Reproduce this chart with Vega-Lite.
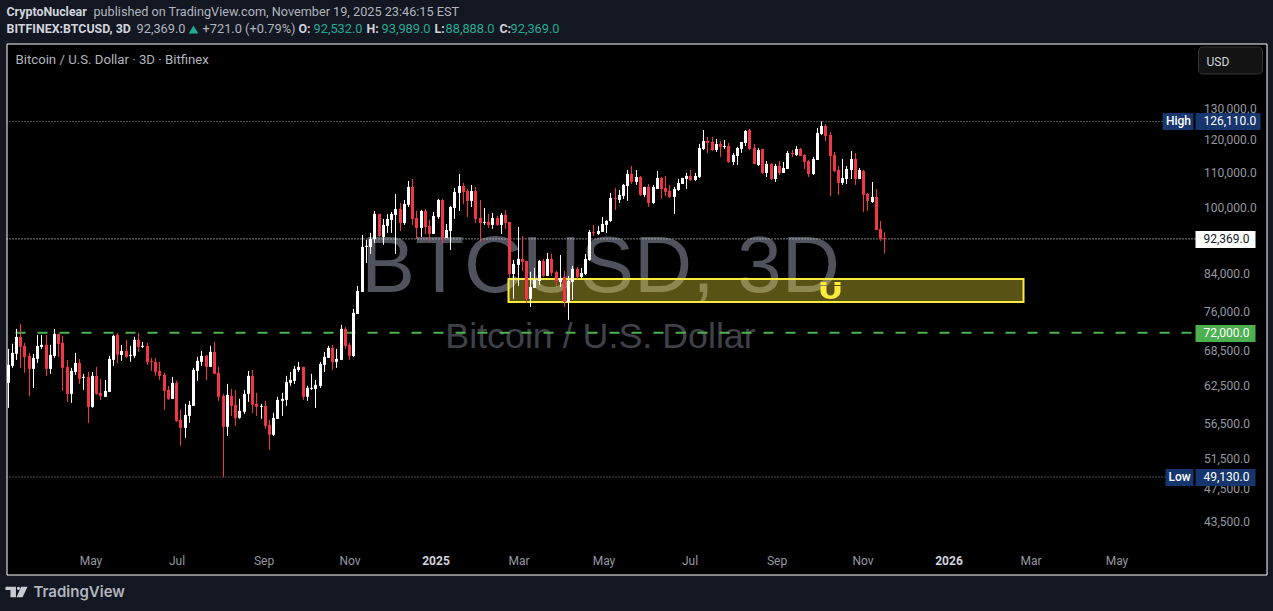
{
  "$schema": "https://vega.github.io/schema/vega-lite/v6.json",
  "description": "BTCUSD 3D candles, TradingView snapshot",
  "width": 1260,
  "height": 531,
  "autosize": "none",
  "padding": {"left": 6.5, "top": 43.5, "right": 6.5, "bottom": 36.5},
  "background": "#131722",
  "config": {
    "view": {"fill": "#000000", "stroke": "#ffffff", "strokeWidth": 1},
    "text": {"font": "Roboto", "align": "left", "baseline": "middle", "fontSize": 12.8},
    "axisY": {
      "orient": "right",
      "grid": false,
      "ticks": false,
      "domain": false,
      "format": ",.1f",
      "labelFont": "Roboto",
      "labelFontSize": 12,
      "labelColor": "#9598a1",
      "labelAlign": "left",
      "labelPadding": -63,
      "labelOffset": -1,
      "labelOverlap": false,
      "labelFlush": false,
      "labelBound": false,
      "title": null
    }
  },
  "resolve": {"axis": {"y": "shared"}},
  "datasets": {
    "candles": [
      {"d":"2024-03-03","o":63062,"h":69003,"l":59015,"c":66145},
      {"d":"2024-03-06","o":65970,"h":69928,"l":65620,"c":68280},
      {"d":"2024-03-09","o":68100,"h":72760,"l":67020,"c":71236},
      {"d":"2024-03-12","o":71236,"h":73735,"l":65620,"c":69373},
      {"d":"2024-03-15","o":69558,"h":70113,"l":64754,"c":67560},
      {"d":"2024-03-18","o":67740,"h":68280,"l":60926,"c":65445},
      {"d":"2024-03-21","o":65445,"h":68100,"l":62232,"c":67380},
      {"d":"2024-03-24","o":67200,"h":71616,"l":66495,"c":69558},
      {"d":"2024-03-27","o":69373,"h":71616,"l":69003,"c":69743},
      {"d":"2024-03-30","o":69743,"h":71616,"l":64241,"c":65445},
      {"d":"2024-04-02","o":65445,"h":69743,"l":64583,"c":67920},
      {"d":"2024-04-05","o":67740,"h":72760,"l":67380,"c":71806},
      {"d":"2024-04-08","o":71806,"h":71806,"l":67560,"c":69928},
      {"d":"2024-04-11","o":70113,"h":71426,"l":61736,"c":65620},
      {"d":"2024-04-14","o":65795,"h":67020,"l":59963,"c":61250},
      {"d":"2024-04-17","o":61250,"h":65620,"l":59805,"c":65096},
      {"d":"2024-04-20","o":64925,"h":68280,"l":64412,"c":66495},
      {"d":"2024-04-23","o":66495,"h":67200,"l":62896,"c":63731},
      {"d":"2024-04-26","o":63899,"h":64583,"l":61898,"c":64070},
      {"d":"2024-04-29","o":64070,"h":64925,"l":56717,"c":59173},
      {"d":"2024-05-02","o":59173,"h":64925,"l":59015,"c":64241},
      {"d":"2024-05-05","o":64241,"h":65795,"l":61088,"c":61250},
      {"d":"2024-05-08","o":61412,"h":63731,"l":60279,"c":60926},
      {"d":"2024-05-11","o":60764,"h":63560,"l":60764,"c":61736},
      {"d":"2024-05-14","o":61574,"h":67740,"l":61574,"c":67200},
      {"d":"2024-05-17","o":67020,"h":71616,"l":65970,"c":71426},
      {"d":"2024-05-20","o":71616,"h":71996,"l":66495,"c":67920},
      {"d":"2024-05-23","o":67920,"h":69743,"l":66845,"c":68640},
      {"d":"2024-05-26","o":68640,"h":70668,"l":67380,"c":67560},
      {"d":"2024-05-29","o":67740,"h":69558,"l":66670,"c":67920},
      {"d":"2024-06-01","o":67740,"h":71236,"l":67380,"c":70668},
      {"d":"2024-06-04","o":70668,"h":71996,"l":68460,"c":69373},
      {"d":"2024-06-07","o":69373,"h":70298,"l":69188,"c":69558},
      {"d":"2024-06-10","o":69558,"h":70113,"l":66145,"c":66670},
      {"d":"2024-06-13","o":66845,"h":67380,"l":65096,"c":66670},
      {"d":"2024-06-16","o":66670,"h":67380,"l":64241,"c":64925},
      {"d":"2024-06-19","o":65096,"h":66670,"l":63560,"c":64241},
      {"d":"2024-06-22","o":64412,"h":64754,"l":58702,"c":61736},
      {"d":"2024-06-25","o":61898,"h":62564,"l":60279,"c":60441},
      {"d":"2024-06-28","o":60441,"h":64070,"l":60441,"c":63062},
      {"d":"2024-07-01","o":63062,"h":63394,"l":56867,"c":57017},
      {"d":"2024-07-04","o":57167,"h":58702,"l":53366,"c":55972},
      {"d":"2024-07-07","o":55972,"h":59647,"l":54508,"c":57932},
      {"d":"2024-07-10","o":57778,"h":60117,"l":56717,"c":59489},
      {"d":"2024-07-13","o":59331,"h":65620,"l":59331,"c":65267},
      {"d":"2024-07-16","o":65096,"h":67560,"l":63394,"c":66845},
      {"d":"2024-07-19","o":66670,"h":68640,"l":65970,"c":67740},
      {"d":"2024-07-22","o":67740,"h":67920,"l":63560,"c":65795},
      {"d":"2024-07-25","o":65795,"h":69558,"l":65795,"c":68460},
      {"d":"2024-07-28","o":68460,"h":70298,"l":64583,"c":64583},
      {"d":"2024-07-31","o":64754,"h":65795,"l":60117,"c":60764},
      {"d":"2024-08-03","o":60926,"h":61250,"l":49130,"c":56117},
      {"d":"2024-08-06","o":56117,"h":62896,"l":54796,"c":61088},
      {"d":"2024-08-09","o":60926,"h":62064,"l":57778,"c":59331},
      {"d":"2024-08-12","o":59489,"h":61898,"l":56267,"c":57475},
      {"d":"2024-08-15","o":57475,"h":60441,"l":57321,"c":58548},
      {"d":"2024-08-18","o":58394,"h":61898,"l":58086,"c":61250},
      {"d":"2024-08-21","o":61250,"h":65096,"l":59963,"c":64241},
      {"d":"2024-08-24","o":64241,"h":65267,"l":58240,"c":59489},
      {"d":"2024-08-27","o":59647,"h":61412,"l":57778,"c":59173},
      {"d":"2024-08-30","o":59173,"h":59647,"l":57321,"c":59331},
      {"d":"2024-09-02","o":59331,"h":60117,"l":55822,"c":56267},
      {"d":"2024-09-05","o":56417,"h":57167,"l":52798,"c":54946},
      {"d":"2024-09-08","o":54946,"h":58240,"l":54796,"c":57475},
      {"d":"2024-09-11","o":57321,"h":60764,"l":57321,"c":60279},
      {"d":"2024-09-14","o":60117,"h":61412,"l":57778,"c":60441},
      {"d":"2024-09-17","o":60279,"h":64241,"l":59331,"c":63228},
      {"d":"2024-09-20","o":63062,"h":64925,"l":62564,"c":63560},
      {"d":"2024-09-23","o":63394,"h":65970,"l":62896,"c":65445},
      {"d":"2024-09-26","o":65267,"h":66670,"l":64925,"c":65795},
      {"d":"2024-09-29","o":65795,"h":65795,"l":60279,"c":60764},
      {"d":"2024-10-02","o":60764,"h":62564,"l":60117,"c":62232},
      {"d":"2024-10-05","o":62064,"h":64583,"l":61898,"c":62232},
      {"d":"2024-10-08","o":62064,"h":63560,"l":59015,"c":62730},
      {"d":"2024-10-11","o":62564,"h":66670,"l":62232,"c":66320},
      {"d":"2024-10-14","o":66145,"h":68460,"l":64925,"c":67560},
      {"d":"2024-10-17","o":67380,"h":69558,"l":67380,"c":69188},
      {"d":"2024-10-20","o":69188,"h":69743,"l":65267,"c":66670},
      {"d":"2024-10-23","o":66670,"h":69003,"l":65620,"c":67200},
      {"d":"2024-10-26","o":67020,"h":73540,"l":67020,"c":72760},
      {"d":"2024-10-29","o":72760,"h":73150,"l":69003,"c":69558},
      {"d":"2024-11-01","o":69743,"h":70113,"l":67020,"c":67740},
      {"d":"2024-11-04","o":67740,"h":76722,"l":67560,"c":75916},
      {"d":"2024-11-07","o":75716,"h":81546,"l":75716,"c":80470},
      {"d":"2024-11-10","o":80259,"h":93352,"l":80259,"c":90427},
      {"d":"2024-11-13","o":90427,"h":92113,"l":86671,"c":90668},
      {"d":"2024-11-16","o":90427,"h":93846,"l":88764,"c":92360},
      {"d":"2024-11-19","o":92360,"h":99474,"l":91390,"c":98691},
      {"d":"2024-11-22","o":98691,"h":98691,"l":92854,"c":93101},
      {"d":"2024-11-25","o":92854,"h":97388,"l":90909,"c":95857},
      {"d":"2024-11-28","o":95603,"h":98691,"l":93846,"c":97388},
      {"d":"2024-12-01","o":97127,"h":99213,"l":93846,"c":98691},
      {"d":"2024-12-04","o":98430,"h":104064,"l":88764,"c":100001},
      {"d":"2024-12-07","o":100001,"h":101609,"l":94340,"c":96365},
      {"d":"2024-12-10","o":96365,"h":102413,"l":95857,"c":101341},
      {"d":"2024-12-13","o":101073,"h":107706,"l":100537,"c":106014},
      {"d":"2024-12-16","o":106014,"h":108278,"l":95857,"c":97388},
      {"d":"2024-12-19","o":97647,"h":99474,"l":92360,"c":95095},
      {"d":"2024-12-22","o":95095,"h":99735,"l":92854,"c":99474},
      {"d":"2024-12-25","o":99474,"h":100001,"l":93599,"c":95349},
      {"d":"2024-12-28","o":95603,"h":97127,"l":91872,"c":93599},
      {"d":"2024-12-31","o":93599,"h":99213,"l":93599,"c":98169},
      {"d":"2025-01-03","o":97908,"h":102689,"l":97388,"c":102413},
      {"d":"2025-01-06","o":102413,"h":102689,"l":91390,"c":92607},
      {"d":"2025-01-09","o":92607,"h":96111,"l":92607,"c":94587},
      {"d":"2025-01-12","o":94340,"h":100805,"l":89704,"c":100537},
      {"d":"2025-01-15","o":100269,"h":105728,"l":97388,"c":104614},
      {"d":"2025-01-18","o":104339,"h":109728,"l":99474,"c":106296},
      {"d":"2025-01-21","o":106296,"h":107142,"l":101341,"c":104614},
      {"d":"2025-01-24","o":104889,"h":105446,"l":97908,"c":102145},
      {"d":"2025-01-27","o":102145,"h":106578,"l":100537,"c":104889},
      {"d":"2025-01-30","o":104889,"h":106014,"l":96365,"c":97388},
      {"d":"2025-02-02","o":97647,"h":102413,"l":91631,"c":96365},
      {"d":"2025-02-05","o":96365,"h":100269,"l":95857,"c":96619},
      {"d":"2025-02-08","o":96619,"h":98691,"l":95095,"c":95857},
      {"d":"2025-02-11","o":95857,"h":98952,"l":94841,"c":97647},
      {"d":"2025-02-14","o":97647,"h":98169,"l":95603,"c":95857},
      {"d":"2025-02-17","o":95857,"h":98952,"l":93599,"c":98430},
      {"d":"2025-02-20","o":98430,"h":99735,"l":94841,"c":96365},
      {"d":"2025-02-23","o":96619,"h":96619,"l":83292,"c":84185},
      {"d":"2025-02-26","o":84185,"h":87358,"l":78782,"c":86442},
      {"d":"2025-03-01","o":86213,"h":95349,"l":81546,"c":87593},
      {"d":"2025-03-04","o":87593,"h":93101,"l":84851,"c":86900},
      {"d":"2025-03-07","o":87129,"h":87129,"l":77953,"c":78782},
      {"d":"2025-03-10","o":78782,"h":84629,"l":77129,"c":81329},
      {"d":"2025-03-13","o":81115,"h":85531,"l":81115,"c":82848},
      {"d":"2025-03-16","o":82631,"h":87358,"l":81763,"c":87129},
      {"d":"2025-03-19","o":87129,"h":87593,"l":83514,"c":83736},
      {"d":"2025-03-22","o":83736,"h":88999,"l":83736,"c":87593},
      {"d":"2025-03-25","o":87593,"h":88764,"l":83736,"c":84407},
      {"d":"2025-03-28","o":84629,"h":84851,"l":81546,"c":82631},
      {"d":"2025-03-31","o":82414,"h":88529,"l":81329,"c":83292},
      {"d":"2025-04-03","o":83514,"h":84851,"l":77129,"c":78159},
      {"d":"2025-04-06","o":78159,"h":83736,"l":74515,"c":82631},
      {"d":"2025-04-09","o":82414,"h":85984,"l":78571,"c":85302},
      {"d":"2025-04-12","o":85302,"h":85755,"l":83070,"c":83514},
      {"d":"2025-04-15","o":83514,"h":85531,"l":83292,"c":84407},
      {"d":"2025-04-18","o":84185,"h":88764,"l":83963,"c":87593},
      {"d":"2025-04-21","o":87358,"h":94587,"l":87129,"c":94093},
      {"d":"2025-04-24","o":94093,"h":95857,"l":93101,"c":93846},
      {"d":"2025-04-27","o":93599,"h":95603,"l":93352,"c":94340},
      {"d":"2025-04-30","o":94093,"h":97908,"l":94093,"c":96111},
      {"d":"2025-05-03","o":95857,"h":97127,"l":93846,"c":96873},
      {"d":"2025-05-06","o":96873,"h":104339,"l":96619,"c":102963},
      {"d":"2025-05-09","o":102963,"h":105728,"l":99735,"c":102689},
      {"d":"2025-05-12","o":102413,"h":105164,"l":101609,"c":103789},
      {"d":"2025-05-15","o":103514,"h":106860,"l":102689,"c":106578},
      {"d":"2025-05-18","o":106296,"h":110888,"l":102145,"c":109728},
      {"d":"2025-05-21","o":109728,"h":112078,"l":106860,"c":107424},
      {"d":"2025-05-24","o":107424,"h":110888,"l":106578,"c":108858},
      {"d":"2025-05-27","o":108858,"h":109148,"l":103514,"c":103789},
      {"d":"2025-05-30","o":103789,"h":106014,"l":103239,"c":106014},
      {"d":"2025-06-02","o":106014,"h":106860,"l":100537,"c":101609},
      {"d":"2025-06-05","o":101609,"h":106578,"l":101341,"c":106014},
      {"d":"2025-06-08","o":105446,"h":110598,"l":105446,"c":108568},
      {"d":"2025-06-11","o":108568,"h":108858,"l":102689,"c":105446},
      {"d":"2025-06-14","o":105728,"h":109148,"l":103514,"c":104614},
      {"d":"2025-06-17","o":104889,"h":106578,"l":102963,"c":103239},
      {"d":"2025-06-20","o":103239,"h":106014,"l":98691,"c":105446},
      {"d":"2025-06-23","o":105164,"h":108278,"l":104889,"c":107142},
      {"d":"2025-06-26","o":106860,"h":108568,"l":106860,"c":108568},
      {"d":"2025-06-29","o":108278,"h":110018,"l":105446,"c":109148},
      {"d":"2025-07-02","o":109148,"h":110888,"l":107706,"c":107988},
      {"d":"2025-07-05","o":107988,"h":110018,"l":107706,"c":109148},
      {"d":"2025-07-08","o":108858,"h":118808,"l":108568,"c":117552},
      {"d":"2025-07-11","o":117238,"h":123288,"l":116924,"c":119750},
      {"d":"2025-07-14","o":119750,"h":121030,"l":116006,"c":119122},
      {"d":"2025-07-17","o":119436,"h":121030,"l":116618,"c":116924},
      {"d":"2025-07-20","o":116924,"h":120386,"l":116312,"c":118808},
      {"d":"2025-07-23","o":118808,"h":119750,"l":114782,"c":117866},
      {"d":"2025-07-26","o":117866,"h":120064,"l":117238,"c":118180},
      {"d":"2025-07-29","o":118180,"h":119122,"l":112972,"c":113270},
      {"d":"2025-08-01","o":113270,"h":116006,"l":112376,"c":115394},
      {"d":"2025-08-04","o":115088,"h":117866,"l":112376,"c":117552},
      {"d":"2025-08-07","o":117238,"h":119436,"l":116006,"c":119436},
      {"d":"2025-08-10","o":119122,"h":123288,"l":118180,"c":122966},
      {"d":"2025-08-13","o":123288,"h":123619,"l":116924,"c":117238},
      {"d":"2025-08-16","o":117552,"h":118808,"l":112674,"c":112674},
      {"d":"2025-08-19","o":112376,"h":117552,"l":112078,"c":116924},
      {"d":"2025-08-22","o":117238,"h":117238,"l":109728,"c":110018},
      {"d":"2025-08-25","o":110018,"h":113568,"l":108858,"c":112674},
      {"d":"2025-08-28","o":112674,"h":112972,"l":107988,"c":108278},
      {"d":"2025-08-31","o":108278,"h":112674,"l":107424,"c":112078},
      {"d":"2025-09-03","o":112078,"h":113568,"l":109438,"c":110018},
      {"d":"2025-09-06","o":110018,"h":113270,"l":110018,"c":111484},
      {"d":"2025-09-09","o":111186,"h":116618,"l":111186,"c":116006},
      {"d":"2025-09-12","o":116006,"h":116924,"l":114782,"c":115700},
      {"d":"2025-09-15","o":115394,"h":118180,"l":115088,"c":117238},
      {"d":"2025-09-18","o":117238,"h":117552,"l":115088,"c":115088},
      {"d":"2025-09-21","o":115394,"h":115700,"l":111186,"c":113270},
      {"d":"2025-09-24","o":113568,"h":113866,"l":108858,"c":109728},
      {"d":"2025-09-27","o":109728,"h":114782,"l":109438,"c":114172},
      {"d":"2025-09-30","o":113866,"h":123952,"l":113866,"c":122322},
      {"d":"2025-10-03","o":122000,"h":126110,"l":121678,"c":124614},
      {"d":"2025-10-06","o":124614,"h":125276,"l":119750,"c":121356},
      {"d":"2025-10-09","o":121678,"h":122644,"l":103514,"c":115088},
      {"d":"2025-10-12","o":115394,"h":116312,"l":110308,"c":110598},
      {"d":"2025-10-15","o":110888,"h":112078,"l":103789,"c":107142},
      {"d":"2025-10-18","o":107142,"h":114172,"l":106578,"c":108568},
      {"d":"2025-10-21","o":108278,"h":112078,"l":106860,"c":111186},
      {"d":"2025-10-24","o":110888,"h":116618,"l":108278,"c":114172},
      {"d":"2025-10-27","o":114172,"h":116006,"l":106578,"c":108278},
      {"d":"2025-10-30","o":108278,"h":111484,"l":108278,"c":110888},
      {"d":"2025-11-02","o":110598,"h":110888,"l":99213,"c":103789},
      {"d":"2025-11-05","o":104064,"h":104339,"l":99474,"c":102145},
      {"d":"2025-11-08","o":101877,"h":107424,"l":101609,"c":103239},
      {"d":"2025-11-11","o":103239,"h":105446,"l":94587,"c":94587},
      {"d":"2025-11-14","o":94841,"h":96873,"l":91872,"c":92360},
      {"d":"2025-11-17","o":92532,"h":93989,"l":88888,"c":92369}
    ]
  },
  "encoding": {
    "x": {
      "field": "d",
      "type": "temporal",
      "title": null,
      "scale": {
        "type": "utc",
        "nice": false,
        "round": true,
        "padding": 0,
        "domain": [
          {"year": 2024, "month": 3, "date": 1, "hours": 20, "minutes": 38, "utc": true},
          {"year": 2026, "month": 8, "date": 15, "hours": 15, "minutes": 36, "utc": true}
        ]
      },
      "axis": {
        "orient": "bottom",
        "grid": false,
        "ticks": false,
        "domain": false,
        "labelFont": "Roboto",
        "labelFontSize": 12,
        "labelBaseline": "middle",
        "labelPadding": -14.5,
        "labelOverlap": false,
        "labelFlush": false,
        "labelBound": false,
        "labelColor": {"condition": {"test": "utcmonth(datum.value)==0", "value": "#d1d4dc"}, "value": "#9598a1"},
        "labelFontWeight": {"condition": {"test": "utcmonth(datum.value)==0", "value": "bold"}, "value": "normal"},
        "labelExpr": "utcmonth(datum.value)==0 ? utcFormat(datum.value,'%Y') : utcFormat(datum.value,'%b')",
        "values": [
          {"year": 2024, "month": 5, "date": 1, "utc": true},
          {"year": 2024, "month": 7, "date": 1, "utc": true},
          {"year": 2024, "month": 9, "date": 1, "utc": true},
          {"year": 2024, "month": 11, "date": 1, "utc": true},
          {"year": 2025, "month": 1, "date": 1, "utc": true},
          {"year": 2025, "month": 3, "date": 1, "utc": true},
          {"year": 2025, "month": 5, "date": 1, "utc": true},
          {"year": 2025, "month": 7, "date": 1, "utc": true},
          {"year": 2025, "month": 9, "date": 1, "utc": true},
          {"year": 2025, "month": 11, "date": 1, "utc": true},
          {"year": 2026, "month": 1, "date": 1, "utc": true},
          {"year": 2026, "month": 3, "date": 1, "utc": true},
          {"year": 2026, "month": 5, "date": 1, "utc": true}
        ]
      }
    },
    "y": {
      "field": "p",
      "type": "quantitative",
      "title": null,
      "scale": {"type": "log", "nice": false, "domain": [37940, 155063]},
      "axis": {"values": [130000, 120000, 110000, 100000, 84000, 76000, 68500, 62500, 56500, 51500, 47500, 43500]}
    },
    "x2": {"field": "d2"},
    "y2": {"field": "p2"}
  },
  "layer": [
    {
      "data": {"values": [{"d": "2025-04-28T07:00Z", "p": 85511, "t": "BTCUSD, 3D"}]},
      "mark": {"type": "text", "font": "Liberation Sans", "fontSize": 80.5, "align": "center", "color": "#50535e"},
      "encoding": {"text": {"field": "t"}, "x2": null, "y2": null}
    },
    {
      "data": {"values": [{"d": "2025-04-28T07:00Z", "p": 71214, "t": "Bitcoin / U.S. Dollar"}]},
      "mark": {"type": "text", "font": "Liberation Sans", "fontSize": 35.8, "align": "center", "color": "#3f4148"},
      "encoding": {"text": {"field": "t"}, "x2": null, "y2": null}
    },
    {
      "data": {
        "values": [{"d": "2025-02-22T12:00Z", "d2": "2026-02-24T00:00Z", "p": 83054, "p2": 78142}],
        "format": {"parse": {"d": "date", "d2": "date"}}
      },
      "mark": {"type": "rect", "fill": "#ffeb3b", "fillOpacity": 0.35, "stroke": "#ffeb3b", "strokeWidth": 2}
    },
    {
      "data": {"values": [{"d": "2025-10-09T07:00Z", "p": 80560}]},
      "mark": {
        "type": "point",
        "filled": true,
        "opacity": 1,
        "color": "#ffeb3b",
        "size": 400,
        "shape": "M-1,-.85H-.4V-.55H-1ZM.4,-.85H1V-.55H.4ZM-1,-.45H-.4V.1A.4,.4 0 0 0 .4,.1V-.45H1V.1A1,.75 0 0 1 -1,.1Z"
      },
      "encoding": {"x2": null, "y2": null}
    },
    {
      "data": {
        "values": [
          {"d": "2024-03-01T20:38Z", "d2": "2026-06-02T07:00Z", "p": 126110},
          {"d": "2024-03-01T20:38Z", "d2": "2026-06-05T02:00Z", "p": 49130}
        ],
        "format": {"parse": {"d": "date", "d2": "date"}}
      },
      "mark": {"type": "rule", "color": "#9a9da6", "strokeWidth": 1, "strokeDash": [1, 2]},
      "encoding": {"y2": null}
    },
    {
      "data": {
        "values": [{"d": "2024-03-01T20:38Z", "d2": "2026-06-25T19:00Z", "p": 92369}],
        "format": {"parse": {"d": "date", "d2": "date"}}
      },
      "mark": {"type": "rule", "color": "#ffffff", "strokeWidth": 1, "strokeDash": [1, 2]},
      "encoding": {"y2": null}
    },
    {
      "data": {
        "values": [{"d": "2024-03-07T22:00Z", "d2": "2026-06-22T22:00Z", "p": 72000}],
        "format": {"parse": {"d": "date", "d2": "date"}}
      },
      "mark": {"type": "rule", "color": "#4caf50", "strokeWidth": 2, "strokeDash": [10, 12]},
      "encoding": {"y2": null}
    },
    {
      "data": {"name": "candles"},
      "mark": {"type": "rule", "strokeWidth": 1},
      "encoding": {
        "x2": null,
        "y": {
          "field": "h",
          "type": "quantitative",
          "title": null,
          "scale": {"type": "log", "nice": false, "domain": [37940, 155063]},
          "axis": {"values": [130000, 120000, 110000, 100000, 84000, 76000, 68500, 62500, 56500, 51500, 47500, 43500]}
        },
        "y2": {"field": "l"},
        "color": {"condition": {"test": "datum.c<datum.o", "value": "#f23645"}, "value": "#ffffff"}
      }
    },
    {
      "data": {"name": "candles"},
      "mark": {"type": "bar", "size": 3},
      "encoding": {
        "x2": null,
        "y": {
          "field": "o",
          "type": "quantitative",
          "title": null,
          "scale": {"type": "log", "nice": false, "domain": [37940, 155063]},
          "axis": {"values": [130000, 120000, 110000, 100000, 84000, 76000, 68500, 62500, 56500, 51500, 47500, 43500]}
        },
        "y2": {"field": "c"},
        "color": {"condition": {"test": "datum.c<datum.o", "value": "#f23645"}, "value": "#ffffff"}
      }
    },
    {
      "data": {
        "values": [
          {"d": "2026-06-02T07:00Z", "d2": "2026-06-25T00:00Z", "p": 128970, "p2": 123287},
          {"d": "2026-06-25T19:00Z", "d2": "2026-08-11T17:00Z", "p": 128970, "p2": 123287},
          {"d": "2026-06-05T02:00Z", "d2": "2026-06-25T00:00Z", "p": 50188, "p2": 47976},
          {"d": "2026-06-25T19:00Z", "d2": "2026-08-07T12:00Z", "p": 50188, "p2": 47976}
        ],
        "format": {"parse": {"d": "date", "d2": "date"}}
      },
      "mark": {"type": "rect", "color": "#17366d"}
    },
    {
      "data": {
        "values": [{"d": "2026-06-25T19:00Z", "d2": "2026-08-07T12:00Z", "p": 94323, "p2": 90165}],
        "format": {"parse": {"d": "date", "d2": "date"}}
      },
      "mark": {"type": "rect", "color": "#ffffff"}
    },
    {
      "data": {
        "values": [{"d": "2026-06-25T19:00Z", "d2": "2026-08-07T12:00Z", "p": 73522, "p2": 70282}],
        "format": {"parse": {"d": "date", "d2": "date"}}
      },
      "mark": {"type": "rect", "color": "#4caf50"}
    },
    {
      "data": {
        "values": [{"d": "2026-06-27T22:00Z", "d2": "2026-08-12T12:00Z", "p": 153631, "p2": 143018}],
        "format": {"parse": {"d": "date", "d2": "date"}}
      },
      "mark": {"type": "rect", "fill": "#131313", "stroke": "#363636", "strokeWidth": 1, "cornerRadius": 4}
    },
    {
      "data": {
        "values": [
          {"d": "2026-07-01T12:00Z", "p": 126110, "t": "126,110.0"},
          {"d": "2026-07-01T12:00Z", "p": 72000, "t": "72,000.0"},
          {"d": "2026-07-01T12:00Z", "p": 49130, "t": "49,130.0"}
        ]
      },
      "mark": {"type": "text", "fontSize": 12, "color": "#ffffff"},
      "encoding": {"text": {"field": "t"}, "x2": null, "y2": null}
    },
    {
      "data": {
        "values": [
          {"d": "2026-06-13T17:00Z", "p": 126110, "t": "High"},
          {"d": "2026-06-14T10:00Z", "p": 49130, "t": "Low"}
        ]
      },
      "mark": {"type": "text", "fontSize": 12, "fontWeight": 500, "align": "center", "color": "#ffffff"},
      "encoding": {"text": {"field": "t"}, "x2": null, "y2": null}
    },
    {
      "data": {"values": [{"d": "2026-07-01T12:00Z", "p": 92369, "t": "92,369.0"}]},
      "mark": {"type": "text", "fontSize": 12, "color": "#131722"},
      "encoding": {"text": {"field": "t"}, "x2": null, "y2": null}
    },
    {
      "data": {"values": [{"d": "2026-07-04T07:00Z", "p": 147641, "t": "USD"}]},
      "mark": {"type": "text", "fontSize": 12, "color": "#d1d4dc"},
      "encoding": {"text": {"field": "t"}, "x2": null, "y2": null}
    },
    {
      "data": {
        "values": [
          {"d": "2024-03-01T20:38Z", "p": 168346, "t": "CryptoNuclear"},
          {"d": "2024-03-01T20:38Z", "p": 160927, "t": "BITFINEX:BTCUSD, 3D"},
          {"d": "2024-09-26T00:00Z", "p": 160927, "t": "O:"},
          {"d": "2024-11-13T10:00Z", "p": 160927, "t": "H:"},
          {"d": "2024-12-31T19:00Z", "p": 160927, "t": "L:"},
          {"d": "2025-02-15T10:00Z", "p": 160927, "t": "C:"}
        ]
      },
      "mark": {"type": "text", "fontWeight": "bold", "fontSize": 12.4, "color": "#d1d4dc"},
      "encoding": {"text": {"field": "t"}, "x2": null, "y2": null}
    },
    {
      "data": {"values": [{"d": "2024-05-03T00:00Z", "p": 168346, "t": "published on TradingView.com, November 19, 2025 23:46:15 EST"}]},
      "mark": {"type": "text", "fontSize": 12.7, "color": "#b2b5be"},
      "encoding": {"text": {"field": "t"}, "x2": null, "y2": null}
    },
    {
      "data": {
        "values": [
          {"d": "2024-06-02T12:00Z", "p": 160927, "t": "92,369.0"},
          {"d": "2024-07-19T17:00Z", "p": 160927, "t": "+721.0 (+0.79%)"}
        ]
      },
      "mark": {"type": "text", "color": "#b2b5be"},
      "encoding": {"text": {"field": "t"}, "x2": null, "y2": null}
    },
    {
      "data": {
        "values": [
          {"d": "2024-10-06T17:00Z", "p": 160927, "t": "92,532.0"},
          {"d": "2024-11-23T10:00Z", "p": 160927, "t": "93,989.0"},
          {"d": "2025-01-08T00:00Z", "p": 160927, "t": "88,888.0"},
          {"d": "2025-02-23T22:00Z", "p": 160927, "t": "92,369.0"}
        ]
      },
      "mark": {"type": "text", "color": "#22ab94"},
      "encoding": {"text": {"field": "t"}, "x2": null, "y2": null}
    },
    {
      "data": {"values": [{"d": "2024-07-13T07:00Z", "p": 160927}]},
      "mark": {"type": "point", "shape": "triangle-up", "filled": true, "opacity": 1, "size": 90, "color": "#22ab94"},
      "encoding": {"x2": null, "y2": null}
    },
    {
      "data": {"values": [{"d": "2024-03-07T22:00Z", "p": 148230, "t": "Bitcoin / U.S. Dollar · 3D · Bitfinex"}]},
      "mark": {"type": "text", "fontSize": 13.2, "color": "#b2b5be"},
      "encoding": {"text": {"field": "t"}, "x2": null, "y2": null}
    },
    {
      "data": {"values": [{"d": "2024-03-21T02:00Z", "p": 36223, "t": "TradingView"}]},
      "mark": {"type": "text", "font": "Inter", "fontSize": 15, "fontWeight": 600, "color": "#b2b5be"},
      "encoding": {"text": {"field": "t"}, "x2": null, "y2": null}
    },
    {
      "data": {"values": [{"d": "2024-03-09T07:00Z", "p": 36223}]},
      "mark": {
        "type": "point",
        "filled": true,
        "opacity": 1,
        "color": "#c8cad0",
        "size": 484,
        "shape": "M-1,-.48H-.05V.48H-.55V-.18H-1ZM.03,-.33A.15,.15 0 1 1 .33,-.33A.15,.15 0 1 1 .03,-.33ZM.42,-.48H1L.55,.48H0Z"
      },
      "encoding": {"x2": null, "y2": null}
    }
  ]
}
